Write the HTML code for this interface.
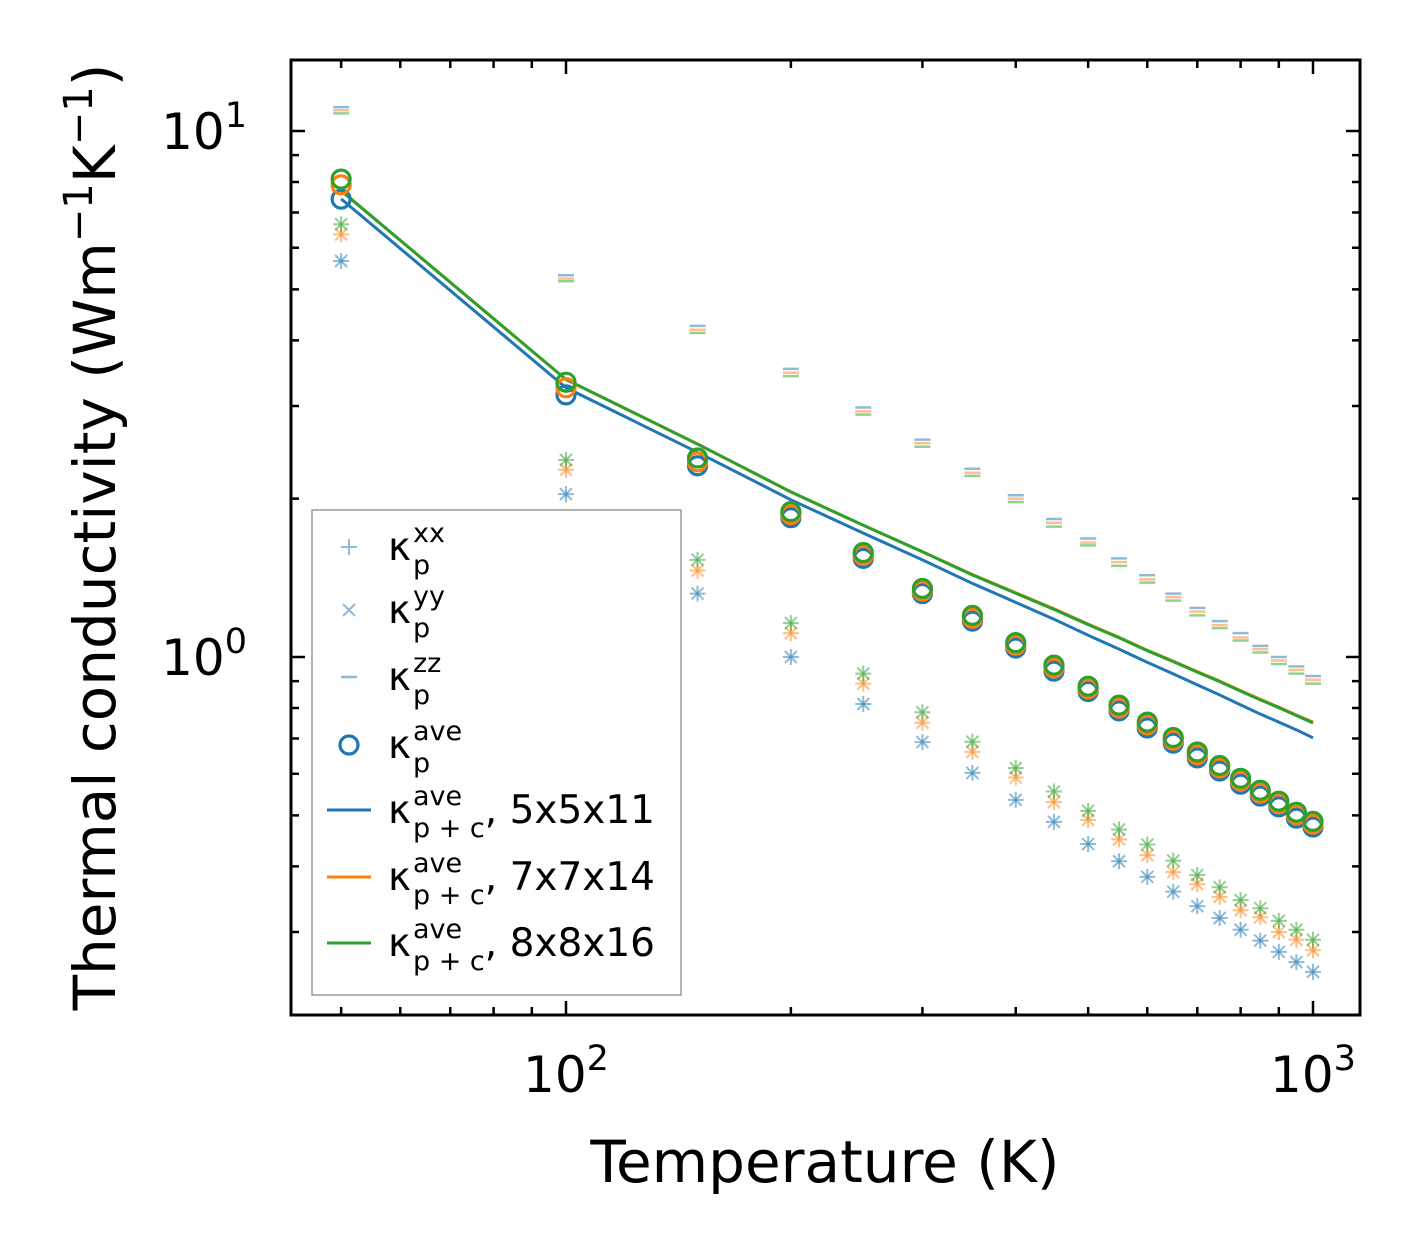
<!DOCTYPE html>
<html><head><meta charset="utf-8"><style>body{margin:0;background:#fff}svg{display:block;font-family:"DejaVu Sans","Liberation Sans",sans-serif}</style></head>
<body>
<svg id="c" width="1421" height="1254" viewBox="0 0 1421 1254" xmlns="http://www.w3.org/2000/svg"></svg>
<script>
const temps=[50,100,150,200,250,300,350,400,450,500,550,600,650,700,750,800,850,900,950,1000];
const kzzBlue=[11.1,5.32,4.26,3.53,2.98,2.59,2.28,2.03,1.83,1.68,1.54,1.43,1.32,1.24,1.17,1.11,1.05,1.0,0.96,0.92];
const kzzOrange=[10.95,5.24,4.19,3.47,2.93,2.55,2.24,2.0,1.8,1.65,1.515,1.405,1.3,1.22,1.15,1.09,1.035,0.985,0.945,0.905];
const kzzGreen=[10.8,5.18,4.13,3.42,2.89,2.51,2.21,1.97,1.77,1.63,1.49,1.385,1.28,1.2,1.135,1.075,1.02,0.97,0.93,0.89];
const kxyBlue=[5.66,2.04,1.32,1.0,0.814,0.689,0.602,0.535,0.486,0.441,0.409,0.382,0.358,0.336,0.319,0.303,0.289,0.275,0.263,0.252];
const kxyOrange=[6.36,2.27,1.46,1.11,0.89,0.75,0.66,0.59,0.53,0.49,0.45,0.42,0.39,0.37,0.35,0.33,0.32,0.30,0.29,0.277];
const kxyGreen=[6.65,2.37,1.53,1.16,0.93,0.785,0.69,0.615,0.555,0.51,0.47,0.44,0.41,0.385,0.365,0.345,0.333,0.315,0.303,0.29];
const aveBlue=[7.42,3.15,2.31,1.84,1.54,1.32,1.17,1.04,0.94,0.86,0.79,0.733,0.686,0.643,0.607,0.573,0.544,0.519,0.494,0.475];
const aveOrange=[7.9,3.25,2.35,1.865,1.56,1.335,1.185,1.053,0.953,0.87,0.8,0.743,0.695,0.652,0.615,0.581,0.551,0.526,0.501,0.481];
const aveGreen=[8.1,3.33,2.39,1.89,1.58,1.35,1.20,1.065,0.965,0.88,0.81,0.752,0.703,0.66,0.622,0.588,0.558,0.532,0.507,0.487];
const lineBlue=[7.43,3.25,2.45,1.99,1.72,1.53,1.38,1.27,1.18,1.10,1.035,0.977,0.929,0.885,0.847,0.811,0.779,0.752,0.727,0.702];
const lineOrange=[7.7,3.37,2.54,2.06,1.78,1.585,1.435,1.325,1.235,1.155,1.09,1.03,0.982,0.938,0.9,0.863,0.831,0.803,0.776,0.752];
const lineGreen=[7.7,3.37,2.54,2.06,1.78,1.585,1.432,1.322,1.232,1.152,1.088,1.028,0.98,0.936,0.898,0.861,0.829,0.801,0.774,0.749];
const xTickLabels=["2","3"];
const yTickLabels=["0","1"];

const NS="http://www.w3.org/2000/svg";const svg=document.getElementById('c');
const L=291,R=1360,T=60,B=1015;
const X=v=>566+747*(Math.log10(v)-2);
const Y=v=>657-526*Math.log10(v);
function el(t,a,p){const e=document.createElementNS(NS,t);for(const k in a)e.setAttribute(k,a[k]);(p||svg).appendChild(e);return e;}
const C={b:'#1f77b4',o:'#ff7f0e',g:'#2ca02c'};
const defs=el('defs',{});const cp=el('clipPath',{id:'clip'},defs);el('rect',{x:L,y:T,width:R-L,height:B-T},cp);
const plot=el('g',{'clip-path':'url(#clip)'});
function plus(g,x,y,c){const p=el('path',{d:`M${x-8},${y}H${x+8}M${x},${y-8}V${y+8}`,stroke:c,'stroke-width':2,opacity:0.5,fill:'none'},g);}
function cross(g,x,y,c){const p=el('path',{d:`M${x-6},${y-6}L${x+6},${y+6}M${x-6},${y+6}L${x+6},${y-6}`,stroke:c,'stroke-width':2,opacity:0.5,fill:'none'},g);}
function dash(g,x,y,c){const p=el('path',{d:`M${x-8},${y}H${x+8}`,stroke:c,'stroke-width':2.5,opacity:0.5,fill:'none'},g);}
function circ(g,x,y,c){const p=el('circle',{cx:x,cy:y,r:9,stroke:c,'stroke-width':3.2,fill:'none'},g);}
[[kzzBlue,C.b],[kzzOrange,C.o],[kzzGreen,C.g]].forEach(([a,c])=>temps.forEach((t,i)=>dash(plot,X(t),Y(a[i]),c)));
[[kxyBlue,C.b],[kxyOrange,C.o],[kxyGreen,C.g]].forEach(([a,c])=>temps.forEach((t,i)=>{plus(plot,X(t),Y(a[i]),c);cross(plot,X(t),Y(a[i]),c);}));
[[lineBlue,C.b,'line-5x5x11'],[lineOrange,C.o,'line-7x7x14'],[lineGreen,C.g,'line-8x8x16']].forEach(([a,c,n])=>{const p=el('polyline',{points:temps.map((t,i)=>X(t)+','+Y(a[i])).join(' '),stroke:c,'stroke-width':3,fill:'none','stroke-linejoin':'round'},plot);});
[[aveBlue,C.b],[aveOrange,C.o],[aveGreen,C.g]].forEach(([a,c])=>temps.forEach((t,i)=>circ(plot,X(t),Y(a[i]),c)));
const tk=el('g',{stroke:'#000','stroke-width':2.5});
const xt=[];for(let d=1;d<=3;d++)for(let m=1;m<10;m++)xt.push([m*Math.pow(10,d),m==1]);
xt.forEach(([v,maj])=>{const x=X(v);if(x<L||x>R)return;const l=maj?14:8;el('path',{d:`M${x},${B}v${-l}M${x},${T}v${l}`},tk);});
const yt=[];for(let d=-1;d<=1;d++)for(let m=1;m<10;m++)yt.push([m*Math.pow(10,d),m==1]);
yt.forEach(([v,maj])=>{const y=Y(v);if(y<T||y>B)return;const l=maj?14:8;el('path',{d:`M${L},${y}h${l}M${R},${y}h${-l}`},tk);});
const fr=el('rect',{x:L,y:T,width:R-L,height:B-T,fill:'none',stroke:'#000','stroke-width':3});
function sup(parent,x,y,base,exp,anchor,name){const t=el('text',{x:x,y:y,'font-size':50,'text-anchor':anchor},parent);t.textContent=base;const s=el('tspan',{'font-size':35,dy:-22},t);s.textContent=exp;return t;}
[100,1000].forEach((v,i)=>sup(svg,X(v),1092,'10',xTickLabels[i],'middle','x-tick-label'));
[1,10].forEach((v,i)=>sup(svg,247,Y(v)+18,'10',yTickLabels[i],'end','y-tick-label'));
const xtl=el('text',{x:825,y:1182,'font-size':58,'text-anchor':'middle'});xtl.textContent='Temperature (K)';
const ytl=el('text',{x:0,y:0,'font-size':58,'text-anchor':'middle',transform:'translate(115,537) rotate(-90)'});
ytl.textContent='Thermal conductivity (Wm';let s1=el('tspan',{'font-size':40,dy:-23},ytl);s1.textContent='−1';let s2=el('tspan',{dy:23},ytl);s2.textContent='K';let s3=el('tspan',{'font-size':40,dy:-23},ytl);s3.textContent='−1';let s4=el('tspan',{dy:23},ytl);s4.textContent=')';
const lg=el('g',{});
el('rect',{x:312,y:510,width:369,height:485,fill:'#fff',stroke:'#999','stroke-width':1.5},lg);
const ent=[['plus','xx',''],['cross','yy',''],['dash','zz',''],['circ','ave',''],['line','ave',', 5x5x11',C.b],['line','ave',', 7x7x14',C.o],['line','ave',', 8x8x16',C.g]];
const ly=[547,610,677,745,810,877,943];
ent.forEach((e,i)=>{const g=el('g',{},lg);const y=ly[i];
if(e[0]=='plus')plus(g,349,y,C.b);else if(e[0]=='cross')cross(g,349,y,C.b);else if(e[0]=='dash')dash(g,349,y,C.b);else if(e[0]=='circ')circ(g,349,y,C.b);else el('path',{d:`M327,${y}h44`,stroke:e[3],'stroke-width':3},g);
const t=el('text',{x:388,y:y+13,'font-size':39},g);t.textContent='κ';
const sp=el('tspan',{x:413,dy:-18,'font-size':27},t);sp.textContent=e[1];
const sb=el('tspan',{x:413,dy:32,'font-size':27},t);sb.textContent=i>=4?'p + c':'p';
if(e[2]){const r=el('tspan',{dy:-14,'font-size':39},t);r.textContent=e[2];}});
</script>
</body></html>
